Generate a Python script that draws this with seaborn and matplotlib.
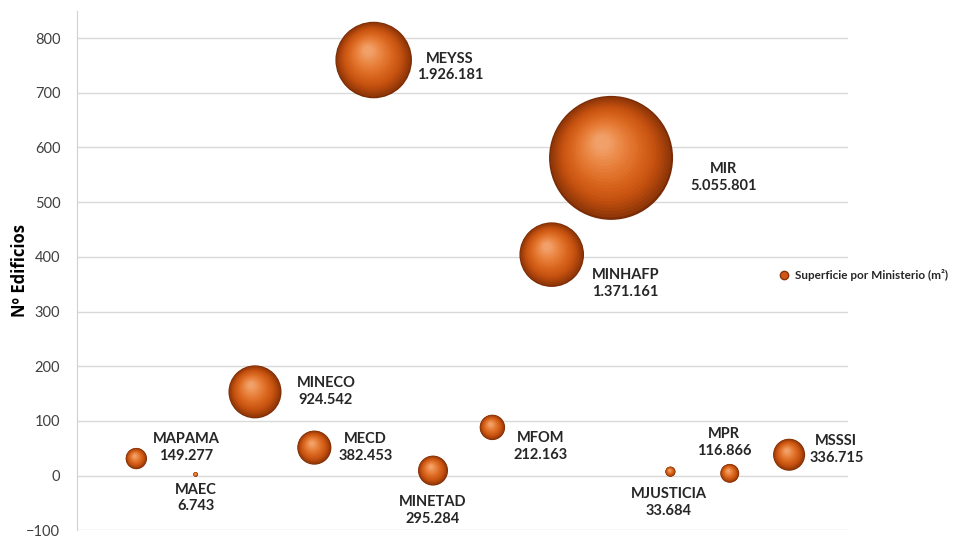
import numpy as np
import pandas as pd
import matplotlib
matplotlib.use("Agg")
import matplotlib.pyplot as plt
import matplotlib.transforms as mtransforms
from matplotlib.lines import Line2D
from matplotlib.colors import LinearSegmentedColormap
import seaborn as sns

# --- data ---
ministerios = ["MAPAMA", "MAEC", "MINECO", "MECD", "MEYSS", "MINETAD",
               "MFOM", "MINHAFP", "MIR", "MJUSTICIA", "MPR", "MSSSI"]
posicion = [1, 2, 3, 4, 5, 6, 7, 8, 9, 10, 11, 12]
edificios = [31, 2, 153, 51, 760, 9, 88, 404, 581, 7, 4, 38]
superficie = [149277, 6743, 924542, 382453, 1926181, 295284,
              212163, 1371161, 5055801, 33684, 116866, 336715]
etiquetas = ["149.277", "6.743", "924.542", "382.453", "1.926.181", "295.284",
             "212.163", "1.371.161", "5.055.801", "33.684", "116.866", "336.715"]
# label offsets (points) from bubble centre
offsets = [(36, 8), (0, -17), (51, 0), (37, 0), (55, -5), (0, -29),
           (35, -14), (53, -21), (81, -14), (-1, -22), (-4, 22), (34, 4)]

df = pd.DataFrame({"ministerio": ministerios, "pos": posicion,
                   "edificios": edificios, "superficie": superficie})

sns.set_style("white")
plt.rcParams["font.family"] = ["Lato", "DejaVu Sans"]

fig = plt.figure(figsize=(9.68, 5.41), dpi=100)
ax = fig.add_axes([0.0795, 0.02, 0.797, 0.96])

# bubble area proportional to surface, largest ~124 px across
smax = (124 * 0.72) ** 2
smin = smax * min(superficie) / max(superficie)

sns.scatterplot(data=df, x="pos", y="edificios", size="superficie",
                sizes=(smin, smax), size_norm=(min(superficie), max(superficie)),
                color="#7a2c06", edgecolor="none", legend=False, ax=ax, zorder=3)

# sphere shading: stacked shrinking discs shifted toward the highlight
cmap = LinearSegmentedColormap.from_list(
    "sphere", ["#8a3307", "#c4500f", "#db6820", "#e9833f", "#f2a06a"])
fracs = np.linspace(0.97, 0.12, 22)
for x, y, s in zip(df["pos"], df["edificios"], df["superficie"]):
    size = smax * s / max(superficie)
    d = np.sqrt(size)
    for f in fracs:
        shift = (1 - f) * 0.28 * d / 2
        tr = ax.transData + mtransforms.ScaledTranslation(
            -shift * 0.6 / 72, shift / 72, fig.dpi_scale_trans)
        c = cmap((1 - f) / (1 - fracs[-1]))
        ax.scatter([x], [y], s=size * f ** 2, color=c, edgecolor="none",
                   transform=tr, zorder=4)

for x, y, name, lab, off in zip(posicion, edificios, ministerios, etiquetas, offsets):
    ax.annotate(f"{name}\n{lab}", (x, y), xytext=off, textcoords="offset points",
                ha="center", va="center", multialignment="center",
                fontsize=10.5, fontweight="bold", color="#262626",
                linespacing=1.25, zorder=6, annotation_clip=False)

ax.set_xlim(0, 13)
ax.set_ylim(-100, 850)
ax.set_yticks(range(-100, 801, 100))
ax.set_xticks([])
ax.yaxis.grid(True, color="#d9d9d9", linewidth=1)
ax.tick_params(axis="y", length=0, labelsize=10.5, labelcolor="#404040", pad=12)
for side in ["top", "right", "bottom"]:
    ax.spines[side].set_visible(False)
ax.spines["left"].set_color("#d0d0d0")
ax.set_xlabel("")
ax.set_ylabel("Nº Edificios", fontsize=12, fontweight="bold", color="#000000",
              labelpad=-2, family=["Open Sans", "DejaVu Sans"])

handle = Line2D([], [], marker="o", linestyle="none", markersize=6,
                markerfacecolor="#d0561a", markeredgecolor="#8a3307")
fig.legend([handle], ["Superficie por Ministerio (m²)"], loc="center left",
           bbox_to_anchor=(0.79, 0.492), frameon=False, handletextpad=0.0,
           borderpad=0.1, prop={"weight": "bold", "size": 8.5})

fig.savefig("out.png", dpi=100)
